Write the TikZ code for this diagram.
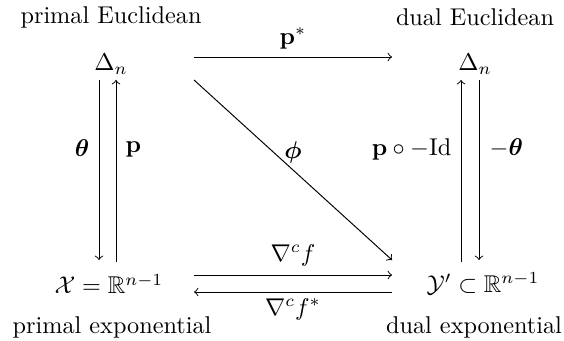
\documentclass[tikz,border=0pt]{standalone}
\usepackage{amsmath,amssymb,bm}
\usetikzlibrary{calc}
\begin{document}
\begin{tikzpicture}[x=0.4124pt,y=-0.4124pt,>=to,
  every node/.style={inner sep=0pt},
  arr/.style={->,line width=0.4pt},
  lab/.style={inner sep=0pt}]
\useasboundingbox (0,0) rectangle (564,341);
\node (tl) at (111,17) {primal Euclidean};
\node (tr) at (475,17) {dual Euclidean};
\node (D1) at (111,64) {$\Delta_n$};
\node (D2) at (475,64) {$\Delta_n$};
\node (X) at (109,284) {$\mathcal{X}=\mathbb{R}^{n-1}$};
\node (Y) at (483,284) {$\mathcal{Y}'\subset\mathbb{R}^{n-1}$};
\node (bl) at (112,327) {primal exponential};
\node (br) at (474,327) {dual exponential};
% top
\draw[arr] ($(D1)+(83,-7)$) -- node[lab,above=3pt] {$\mathbf{p}^*$} ($(D2)+(-83,-7)$);
% diagonal
\draw[arr] ($(D1)+(83,16)$) -- node[lab,above=2.5pt] {$\bm{\phi}$} ($(Y)+(-91,-24)$);
% left verticals
\draw[arr] ($(D1)+(-12,16)$) -- node[lab,pos=0.38,left=3.8pt] {$\bm{\theta}$} ($(X)+(-10,-24)$);
\draw[arr] ($(X)+(7,-22)$) -- node[lab,pos=0.62,right=3.8pt] {$\mathbf{p}$} ($(D1)+(5,16)$);
% right verticals
\draw[arr] ($(Y)+(-22,-22)$) -- node[lab,pos=0.62,left=3.8pt] {$\mathbf{p}\circ -\mathrm{Id}$} ($(D2)+(-14,16)$);
\draw[arr] ($(D2)+(4,16)$) -- node[lab,pos=0.38,right=4.2pt] {$-\bm{\theta}$} ($(Y)+(-4,-24)$);
% bottom
\draw[arr] ($(X)+(85,-9)$) -- node[lab,above=3.5pt] {$\nabla^c f$} ($(Y)+(-91,-9)$);
\draw[arr] ($(Y)+(-91,8)$) -- node[lab,below=2.5pt] {$\nabla^c f^*$} ($(X)+(85,8)$);
\end{tikzpicture}
\end{document}
